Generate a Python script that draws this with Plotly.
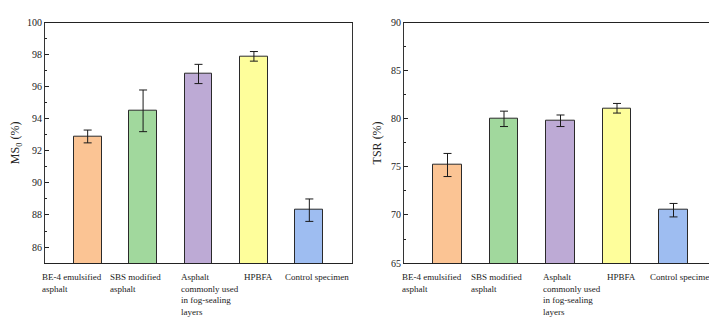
import plotly.graph_objects as go

categories = ["BE-4 emulsified", "SBS modified", "Asphalt", "HPBFA", "Control specimen"]
tick_labels = [
    "BE-4 emulsified<br>asphalt",
    "SBS modified<br>asphalt",
    "Asphalt<br>commonly used<br>in fog-sealing<br>layers",
    "HPBFA",
    "Control specimen",
]
ms0_values = [92.9, 94.5, 96.8, 97.9, 88.3]
ms0_errors = [0.4, 1.3, 0.6, 0.3, 0.7]
tsr_values = [75.2, 80.0, 79.8, 81.1, 70.5]
tsr_errors = [1.2, 0.8, 0.6, 0.5, 0.7]
bar_colors = ["#FBC494", "#A1D89D", "#BDAAD5", "#FEFE9B", "#9EBDF1"]
label_shifts = [-48, -35, -20, -12, -26]

FONT = "Liberation Serif"
x_idx = list(range(len(categories)))

fig = go.Figure()
for vals, errs, xa, ya in [(ms0_values, ms0_errors, "x", "y"), (tsr_values, tsr_errors, "x2", "y2")]:
    fig.add_trace(go.Bar(
        x=x_idx, y=vals, width=0.5,
        marker=dict(color=bar_colors, line=dict(color="#2a2a2a", width=1)),
        error_y=dict(type="data", array=errs, visible=True, color="#1a1a1a", thickness=1, width=4),
        xaxis=xa, yaxis=ya, showlegend=False,
    ))

ydom = [67 / 325, 315 / 325]
common_x = dict(range=[-0.77, 4.77], showticklabels=False, ticks="", showline=True,
                linecolor="#222", linewidth=1, mirror=True, zeroline=False, showgrid=False)
common_y = dict(showline=True, linecolor="#333", linewidth=1, mirror=True, ticks="inside",
                ticklen=4, tickcolor="#222", showgrid=False, zeroline=False,
                tickfont=dict(family=FONT, size=10, color="#222"))

fig.update_layout(
    width=717, height=325,
    margin=dict(l=0, r=0, t=0, b=0),
    plot_bgcolor="white", paper_bgcolor="white",
    bargap=0,
    xaxis=dict(domain=[37 / 717, 344 / 717], anchor="y", **common_x),
    xaxis2=dict(domain=[396 / 717, 709 / 717], anchor="y2", **common_x),
    yaxis=dict(domain=ydom, anchor="x", range=[85, 100], dtick=2, tick0=86,
               minor=dict(ticks="inside", ticklen=2, dtick=1, tick0=85, tickcolor="#222"),
               title=dict(text="MS<sub>0</sub> (%)", font=dict(family=FONT, size=12, color="#222"), standoff=6),
               **common_y),
    yaxis2=dict(domain=ydom, anchor="x2", range=[65, 90], dtick=5, tick0=65,
                minor=dict(ticks="inside", ticklen=2, dtick=2.5, tick0=65, tickcolor="#222"),
                title=dict(text="TSR (%)", font=dict(family=FONT, size=12, color="#222"), standoff=6),
                **common_y),
)

for xa in ["x", "x2"]:
    for i, (lab, sh) in enumerate(zip(tick_labels, label_shifts)):
        fig.add_annotation(
            x=i, xref=xa, y=ydom[0], yref="paper", yanchor="top", xanchor="left",
            xshift=sh, yshift=-7, text=lab, align="left", showarrow=False,
            font=dict(family=FONT, size=9, color="#222"),
        )

fig.write_html("out.html")
